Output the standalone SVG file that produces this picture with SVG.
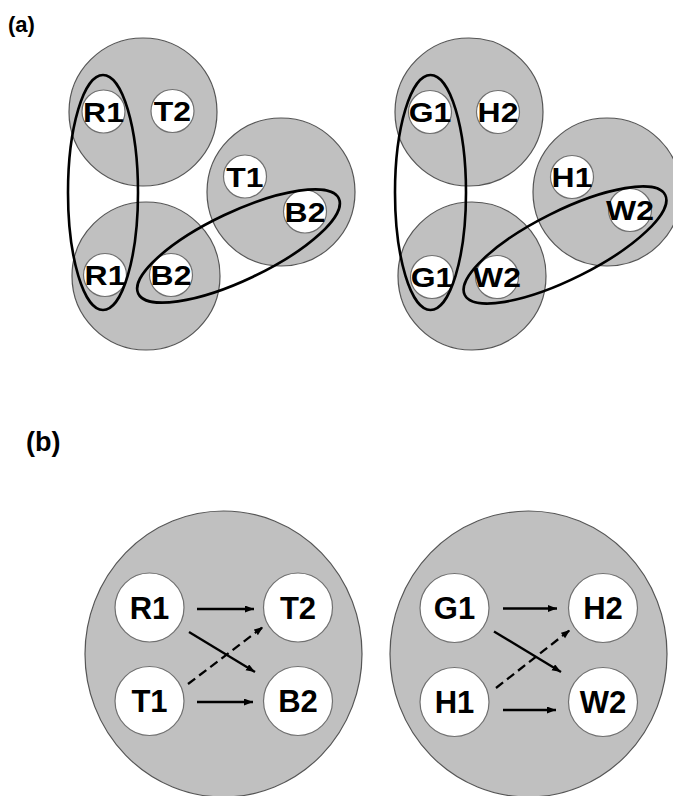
<svg xmlns="http://www.w3.org/2000/svg" width="673" height="796" viewBox="0 0 673 796">
<defs>
<style>
.big{fill:#c0c0c0;stroke:#555;stroke-width:1.2}
.sm{fill:#fff;stroke:#707070;stroke-width:1.2}
.ell{fill:none;stroke:#000;stroke-width:2.6}
.la{font-family:"Liberation Sans",Arial,sans-serif;font-weight:bold;font-size:28.5px;text-anchor:middle;fill:#000}
.lb{font-family:"Liberation Sans",Arial,sans-serif;font-weight:bold;font-size:31px;text-anchor:middle;fill:#000}
.pl{font-family:"Liberation Sans",Arial,sans-serif;font-weight:bold;fill:#000}
.arr{stroke:#000;stroke-width:2.3;fill:none;marker-end:url(#ah)}
.dash{stroke-dasharray:9 5}
</style>
<marker id="ah" markerUnits="userSpaceOnUse" markerWidth="10" markerHeight="8" refX="9" refY="3.5" orient="auto">
<path d="M0,0 L9,3.5 L0,7 z" fill="#000"/>
</marker>
</defs>

<text class="pl" x="8" y="32" font-size="22">(a)</text>
<text class="pl" x="26" y="451" font-size="27">(b)</text>

<!-- Panel (a) left -->
<g id="a-left-top"><circle class="big" cx="143" cy="112" r="74"/></g>
<g id="a-left-bottom"><circle class="big" cx="146" cy="276" r="74"/></g>
<g id="a-left-right"><circle class="big" cx="281" cy="192" r="74"/></g>
<g id="a-R1-top"><circle class="sm" cx="103.5" cy="111.5" r="21.5"/><text class="la" transform="translate(103.5,121.5) scale(1.12,1)">R1</text></g>
<g id="a-T2"><circle class="sm" cx="172.5" cy="111" r="21.5"/><text class="la" transform="translate(172.5,121) scale(1.12,1)">T2</text></g>
<g id="a-T1"><circle class="sm" cx="245" cy="176.5" r="21.5"/><text class="la" transform="translate(245,186.5) scale(1.12,1)">T1</text></g>
<g id="a-B2-right"><circle class="sm" cx="305" cy="211.5" r="21.5"/><text class="la" transform="translate(305,221.5) scale(1.12,1)">B2</text></g>
<g id="a-R1-bottom"><circle class="sm" cx="105" cy="275" r="21.5"/><text class="la" transform="translate(105,285) scale(1.12,1)">R1</text></g>
<g id="a-B2-bottom"><circle class="sm" cx="171" cy="275" r="21.5"/><text class="la" transform="translate(171,285) scale(1.12,1)">B2</text></g>

<!-- Panel (a) right -->
<g id="a-right-top"><circle class="big" cx="469" cy="112" r="74"/></g>
<g id="a-right-bottom"><circle class="big" cx="472" cy="276" r="74"/></g>
<g id="a-right-right"><circle class="big" cx="607" cy="192" r="74"/></g>
<g id="a-G1-top"><circle class="sm" cx="430" cy="112" r="21.5"/><text class="la" transform="translate(430,122) scale(1.12,1)">G1</text></g>
<g id="a-H2"><circle class="sm" cx="498" cy="112" r="21.5"/><text class="la" transform="translate(498,122) scale(1.12,1)">H2</text></g>
<g id="a-H1"><circle class="sm" cx="572" cy="177" r="21.5"/><text class="la" transform="translate(572,187) scale(1.12,1)">H1</text></g>
<g id="a-W2-right"><circle class="sm" cx="630" cy="210" r="21.5"/><text class="la" transform="translate(630,220) scale(1.12,1)">W2</text></g>
<g id="a-G1-bottom"><circle class="sm" cx="432" cy="277" r="21.5"/><text class="la" transform="translate(432,287) scale(1.12,1)">G1</text></g>
<g id="a-W2-bottom"><circle class="sm" cx="497" cy="277" r="21.5"/><text class="la" transform="translate(497,287) scale(1.12,1)">W2</text></g>

<!-- groupings (ellipses) -->
<g id="groupings">
<ellipse class="ell" cx="103" cy="192.5" rx="35" ry="117.5"/>
<ellipse class="ell" cx="238.5" cy="246" rx="111" ry="34" transform="rotate(-25.4 238.5 246)"/>
<ellipse class="ell" cx="430.5" cy="192.5" rx="35.5" ry="117.5"/>
<ellipse class="ell" cx="565" cy="245" rx="112" ry="34" transform="rotate(-26.5 565 245)"/>
</g>

<!-- Panel (b) -->
<g id="b-left-bg"><ellipse class="big" cx="223.5" cy="654" rx="138.5" ry="143"/></g>
<g id="b-right-bg"><ellipse class="big" cx="528.5" cy="654" rx="138.5" ry="143"/></g>
<g id="b-R1"><circle class="sm" cx="149.5" cy="607.5" r="34.5"/><text class="lb" x="149.5" y="618.5">R1</text></g>
<g id="b-T2"><circle class="sm" cx="298" cy="607.5" r="34.5"/><text class="lb" x="298" y="618.5">T2</text></g>
<g id="b-T1"><circle class="sm" cx="149.5" cy="701" r="34.5"/><text class="lb" x="149.5" y="712">T1</text></g>
<g id="b-B2"><circle class="sm" cx="298" cy="701" r="34.5"/><text class="lb" x="298" y="712">B2</text></g>
<g id="b-G1"><circle class="sm" cx="454.5" cy="608" r="34.5"/><text class="lb" x="454.5" y="619">G1</text></g>
<g id="b-H2"><circle class="sm" cx="603" cy="608" r="34.5"/><text class="lb" x="603" y="619">H2</text></g>
<g id="b-H1"><circle class="sm" cx="454.5" cy="702" r="34.5"/><text class="lb" x="454.5" y="713">H1</text></g>
<g id="b-W2"><circle class="sm" cx="603" cy="702" r="34.5"/><text class="lb" x="603" y="713">W2</text></g>

<g id="connectors">
<line class="arr" x1="197" y1="609" x2="254" y2="609"/>
<line class="arr" x1="189" y1="632" x2="255" y2="672"/>
<line class="arr dash" x1="188" y1="684" x2="263" y2="627"/>
<line class="arr" x1="197" y1="702" x2="253" y2="702"/>
<line class="arr" x1="503" y1="608.5" x2="557" y2="608.5"/>
<line class="arr" x1="494" y1="631.5" x2="561" y2="672"/>
<line class="arr dash" x1="496" y1="688" x2="570" y2="630"/>
<line class="arr" x1="503" y1="710" x2="556" y2="710"/>
</g>
</svg>
